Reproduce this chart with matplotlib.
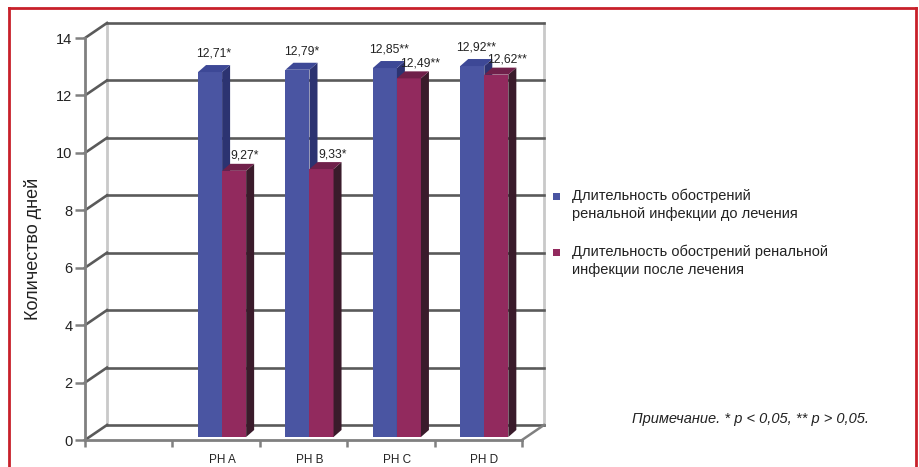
import matplotlib
matplotlib.use("Agg")
import matplotlib.pyplot as plt
from matplotlib.patches import Polygon, Rectangle
from matplotlib.lines import Line2D

plt.rcParams['font.family'] = ['Liberation Sans Narrow', 'Liberation Sans', 'DejaVu Sans']

# ---- data ----
categories = ["PH A", "PH B", "PH C", "PH D"]
before = [12.71, 12.79, 12.85, 12.92]
after = [9.27, 9.33, 12.49, 12.62]
before_labels = ["12,71*", "12,79*", "12,85**", "12,92**"]
after_labels = ["9,27*", "9,33*", "12,49**", "12,62**"]
series_names = ["Длительность обострений\nренальной инфекции до лечения",
                "Длительность обострений ренальной\nинфекции после лечения"]
yticks = [0, 2, 4, 6, 8, 10, 12, 14]
note = "Примечание. * p < 0,05, ** p > 0,05."
ylabel = "Количество дней"

# ---- styling ----
W, H = 920, 467
fig = plt.figure(figsize=(W / 100, H / 100), dpi=100)
fig.patch.set_facecolor("white")

# front plane of the pseudo-3D box (pixel box -> figure fraction)
x0_px, x1_px, y_top_px, y_bot_px = 85, 522, 38, 440
ax = fig.add_axes([x0_px / W, (H - y_bot_px) / H,
                   (x1_px - x0_px) / W, (y_bot_px - y_top_px) / H])
n_slots = len(categories) + 1
ax.set_xlim(0, n_slots)
ax.set_ylim(0, 14)
ax.set_facecolor("none")

px_x = (x1_px - x0_px) / n_slots          # pixels per slot
px_y = (y_bot_px - y_top_px) / 14.0       # pixels per day

# depth of the box walls and of the bars (in data units)
WX, WY = 22 / px_x, 15 / px_y
BX, BY = 8 / px_x, 7 / px_y
# bars stand slightly behind the front plane
OFFX, OFFY = 6 / px_x, 3 / px_y

grid_dark = "#5a5a5a"
wall_light = "#c9c9c9"
axis_grey = "#808080"

# back wall, gridlines and diagonals
for t in yticks:
    ax.add_line(Line2D([WX, n_slots + WX], [t + WY, t + WY], color=grid_dark,
                       lw=1.9, clip_on=False, zorder=1))
    ax.add_line(Line2D([0, WX], [t, t + WY], color=grid_dark, lw=1.9,
                       clip_on=False, zorder=1))
ax.add_line(Line2D([WX, WX], [WY, 14 + WY], color=wall_light, lw=2,
                   clip_on=False, zorder=0.9))
ax.add_line(Line2D([n_slots + WX, n_slots + WX], [WY, 14 + WY], color=wall_light,
                   lw=2, clip_on=False, zorder=0.9))
ax.add_line(Line2D([n_slots, n_slots + WX], [0, WY], color=axis_grey, lw=1.8,
                   clip_on=False, zorder=1))

# spines / ticks
for s in ["top", "right"]:
    ax.spines[s].set_visible(False)
for s in ["left", "bottom"]:
    ax.spines[s].set_color(axis_grey)
    ax.spines[s].set_linewidth(2)
    ax.spines[s].set_zorder(1.5)
ax.set_yticks(yticks)
ax.set_yticklabels([str(t) for t in yticks], fontsize=10.5, color="#222222")
ax.tick_params(axis="y", length=7, width=1.8, color=axis_grey, pad=2)
ax.set_xticks(range(n_slots + 1))
ax.set_xticklabels([""] * (n_slots + 1))
ax.tick_params(axis="x", which="major", length=5, width=1.8, color=axis_grey)

# bars
bw = 0.275
blue_front, blue_side, blue_top = "#4a55a2", "#2c3371", "#3d4896"
red_front, red_side, red_top = "#922a5e", "#3a1b2b", "#70204a"
centers = [i + 1.5 + OFFX for i in range(len(categories))]


def bar3d(xl, v, front, side, top):
    ax.bar(xl, v, width=bw, bottom=OFFY, align="edge", color=front,
           edgecolor="none", zorder=3)
    xr = xl + bw
    b, t = OFFY, OFFY + v
    ax.add_patch(Polygon([(xr, b), (xr + BX, b + BY), (xr + BX, t + BY), (xr, t)],
                         closed=True, facecolor=side, edgecolor="none", zorder=3))
    ax.add_patch(Polygon([(xl, t), (xl + BX, t + BY), (xr + BX, t + BY), (xr, t)],
                         closed=True, facecolor=top, edgecolor="none", zorder=3))


for c, vb, va, lb, la in zip(centers, before, after, before_labels, after_labels):
    bar3d(c - bw, vb, blue_front, blue_side, blue_top)
    bar3d(c, va, red_front, red_side, red_top)
    ax.text(c - bw / 2 + BX / 2, OFFY + vb + BY + 0.2, lb, ha="center",
            va="bottom", fontsize=8.7, color="#222222", zorder=4)
    ax.text(c + bw / 2 + BX / 2 + 0.08, OFFY + va + BY + 0.07, la, ha="center",
            va="bottom", fontsize=8.7, color="#222222", zorder=4)

ax.set_xticks(centers, minor=True)
ax.set_xticklabels(categories, minor=True, fontsize=8.5, color="#222222")
ax.tick_params(axis="x", which="minor", length=0, pad=10)

ax.set_ylabel(ylabel, fontsize=13, color="#222222")
ax.yaxis.set_label_coords((42 - x0_px) / (x1_px - x0_px),
                          (y_bot_px - 249) / (y_bot_px - y_top_px))

# legend
leg_x = 572 / W
for k, (name, col) in enumerate(zip(series_names, [blue_front, red_front])):
    y_px = 196 + 56 * k
    fig.patches.append(Rectangle((553 / W, (H - y_px - 3.5) / H), 7 / W, 7 / H,
                                 transform=fig.transFigure, facecolor=col,
                                 edgecolor="none"))
    fig.text(leg_x, (H - y_px + 7.5) / H, name, ha="left", va="top",
             fontsize=10.5, color="#222222", linespacing=1.4)

# note
fig.text(632 / W, (H - 419) / H, note, ha="left", va="center",
         fontsize=10.5, style="italic", color="#222222")

# red frame
frame_col = "#c8202a"
for xs, ys in [([9, 916], [8, 8]), ([9, 9], [8, 467]), ([916, 916], [8, 467])]:
    fig.add_artist(Line2D([x / W for x in xs], [(H - y) / H for y in ys],
                          transform=fig.transFigure, color=frame_col, lw=2))

fig.savefig("out.png", dpi=100)
